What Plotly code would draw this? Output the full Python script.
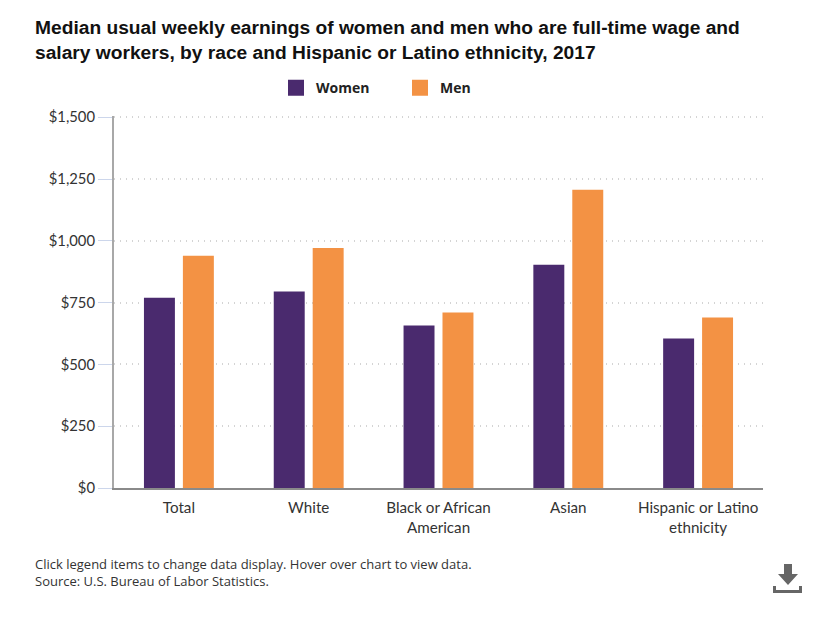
import plotly.graph_objects as go

categories = ["Total", "White", "Black or African<br>American", "Asian", "Hispanic or Latino<br>ethnicity"]
women = [770, 795, 657, 903, 605]
men = [940, 971, 710, 1207, 690]
tick_values = [0, 250, 500, 750, 1000, 1250, 1500]
tick_labels = ["$0", "$250", "$500", "$750", "$1,000", "$1,250", "$1,500"]
PURPLE = "#4a2a6e"
ORANGE = "#f39244"
OFF = 8  # page margin around the figure
W, H = 834 - 2 * OFF, 619 - 2 * OFF
YTOP = 1505  # a little headroom so the $1,500 gridline is drawn
L, R, B = 114 - OFF, 763 - OFF, 488 - OFF
T = B - 371 * YTOP / 1500
TXT = "Open Sans"
AXF = "Lato"

fig = go.Figure()
for name, vals, col in [("Women", women, PURPLE), ("Men", men, ORANGE)]:
    fig.add_bar(x=categories, y=vals, name=name, marker_color=col, marker_line_width=0,
                legendgroup=name, showlegend=False,
                hovertemplate="%{x}<br>" + name + ": $%{y:,}<extra></extra>")
for name, col in [("Women", PURPLE), ("Men", ORANGE)]:
    fig.add_scatter(x=[None], y=[None], mode="markers", name=name, legendgroup=name,
                    marker=dict(symbol="square", size=16, color=col))

def px(x): return (x - OFF - L) / (R - L)
def py(y): return (B - (y - OFF)) / (B - T)
arrow = [(784, 564), (792, 564), (792, 574), (798, 574), (788, 585), (778, 574), (784, 574)]
path = "M " + " L ".join(f"{px(a)} {py(b)}" for a, b in arrow) + " Z"
tray = [(773, 586), (776, 586), (776, 590), (799, 590), (799, 586), (802, 586), (802, 593), (773, 593)]
path2 = "M " + " L ".join(f"{px(a)} {py(b)}" for a, b in tray) + " Z"
shapes = [dict(type="path", xref="paper", yref="paper", path=p, fillcolor="#666666", line_width=0)
          for p in (path, path2)]

fig.update_layout(
    width=W, height=H, autosize=False,
    margin=dict(l=L, r=W - R, t=T, b=H - B),
    paper_bgcolor="white", plot_bgcolor="white",
    barmode="group", bargap=0.4, bargroupgap=0.205,
    title=dict(
        text="Median usual weekly earnings of women and men who are full-time wage and<br>salary workers, by race and Hispanic or Latino ethnicity, 2017",
        x=(35 - OFF) / W, xanchor="left", y=1 - (34 - OFF) / H, yanchor="middle",
        font=dict(family="Liberation Sans", size=19.2, color="#111111", weight="bold"),
    ),
    legend=dict(orientation="h", x=px(400), xanchor="center", y=py(88), yanchor="middle",
                entrywidth=79, entrywidthmode="pixels",
                font=dict(family=TXT, size=14, color="#222222", weight="bold"), bgcolor="rgba(0,0,0,0)"),
    xaxis=dict(type="category", range=[-0.5, 4.5], showgrid=False, showline=True, linecolor="#8a8a8a", linewidth=2,
               ticks="", tickfont=dict(family=AXF, size=15.2, color="#333333"), ticklabelstandoff=5, fixedrange=True),
    yaxis=dict(range=[0, YTOP], tickvals=tick_values, ticktext=tick_labels, showgrid=True,
               griddash="1px,5px", gridcolor="#d4d4d4", gridwidth=2, zeroline=False,
               showline=True, linecolor="#a8a8a8", linewidth=2, ticks="outside", ticklen=14, tickcolor="#ccd6eb",
               tickwidth=1, tickfont=dict(family=AXF, size=14.8, color="#333333"), fixedrange=True),
    annotations=[dict(text="Click legend items to change data display. Hover over chart to view data.<br>Source: U.S. Bureau of Labor Statistics.",
                      xref="paper", yref="paper", x=px(35), y=py(553), xanchor="left", yanchor="top", align="left",
                      showarrow=False, font=dict(family=TXT, size=13, color="#333333"), xshift=-2)],
    shapes=shapes,
    showlegend=True,
)
fig.write_html("out.html")
